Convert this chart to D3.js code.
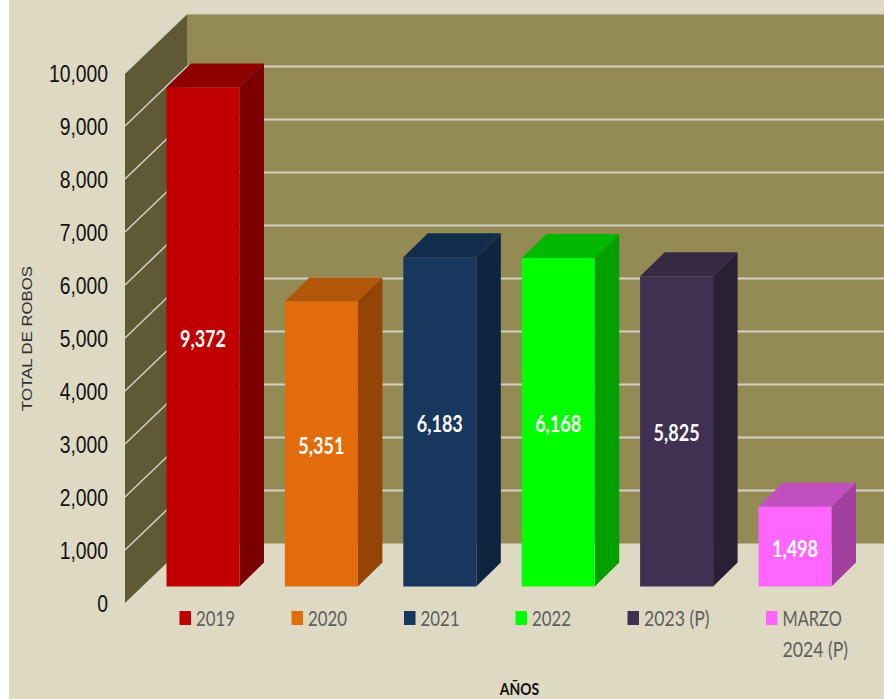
<!DOCTYPE html>
<html>
  <head>
    <meta charset="utf-8">
    <title>Total de robos</title>
    <script src="https://d3js.org/d3.v7.min.js"></script>
    <style>
    html, body { margin: 0; padding: 0; background: #fff; }
    svg { display: block; }
    .tick text { font-family: "Liberation Sans", sans-serif; font-size: 23px; fill: #111; }
    .legend text { font-family: Lato, sans-serif; font-size: 21px; fill: #5f5f5f; }
    .value { font-family: Lato, sans-serif; font-size: 22px; font-weight: 700; fill: #fff; text-anchor: middle; }
    </style>
  </head>
  <body>
<script>

// values
var categories = ["2019", "2020", "2021", "2022", "2023 (P)", "MARZO 2024 (P)"];
var totals = [9372, 5351, 6183, 6168, 5825, 1498];
var yTicks = [0, 1000, 2000, 3000, 4000, 5000, 6000, 7000, 8000, 9000, 10000];
var frontColors = ["#c00000", "#e36c0a", "#17375e", "#00ff00", "#403152", "#ff66ff"];
var topColors = ["#8e0000", "#b0570a", "#122d4d", "#00b800", "#362944", "#c24fbf"];
var sideColors = ["#7a0000", "#944506", "#0f243e", "#00a000", "#2a2036", "#a2409f"];
var legendLines = [["2019"], ["2020"], ["2021"], ["2022"], ["2023 (P)"], ["MARZO", "2024 (P)"]];

var width = 884, height = 699;

// the 3d box: front plane of the wall, and how far back it goes
var wallLeft = 125, wallDx = 62, wallDy = -59.5;
var barDx = 24.5, barDy = -24;

var x = d3.scaleBand().domain(categories).range([166.5, 831.5]).paddingInner(0.3834);
var y = d3.scaleLinear().domain([0, 10000]).range([603, 73]);
// bars stand a bit inside the box, on their own plane
var yBar = d3.scaleLinear().domain([0, 10000]).range([586.5, 54]);

var legendX = [179.5, 291.5, 404, 515.5, 627.5, 766];

function pts(a) { return a.map(p => p.join(",")).join(" "); }

// no Calibri here, so narrow the text down to the reference widths
function squeeze(sel, k) {
  sel.each(function(d) {
    var f = typeof k === "function" ? k(d) : k;
    d3.select(this)
      .attr("textLength", this.getComputedTextLength() * f)
      .attr("lengthAdjust", "spacingAndGlyphs");
  });
}

var svg = d3.select("body").append("svg")
    .attr("width", width)
    .attr("height", height);

svg.append("rect")
    .attr("x", 9).attr("y", 0)
    .attr("width", width - 9).attr("height", height)
    .attr("fill", "#ddd9c3");

// back wall
svg.append("rect")
    .attr("x", wallLeft + wallDx).attr("y", y(10000) + wallDy)
    .attr("width", width - wallLeft - wallDx)
    .attr("height", y(0) - y(10000))
    .attr("fill", "#948a54");

// side wall
svg.append("polygon")
    .attr("points", pts([
      [wallLeft, y(0)], [wallLeft, y(10000)],
      [wallLeft + wallDx, y(10000) + wallDy], [wallLeft + wallDx, y(0) + wallDy]
    ]))
    .attr("fill", "#5f5a35");

// gridlines, back wall then side wall
svg.append("g").selectAll("line")
    .data(yTicks.filter(d => d > 0))
    .join("line")
    .attr("x1", wallLeft + wallDx).attr("x2", width)
    .attr("y1", d => y(d) + wallDy).attr("y2", d => y(d) + wallDy)
    .attr("stroke", "#d3d1c5").attr("stroke-width", 2);

svg.append("g").selectAll("line")
    .data(yTicks.filter(d => d > 0))
    .join("line")
    .attr("x1", wallLeft).attr("x2", wallLeft + wallDx)
    .attr("y1", d => y(d)).attr("y2", d => y(d) + wallDy)
    .attr("stroke", "#d3d1c5").attr("stroke-width", 1.5);

// y axis
var yAxis = svg.append("g")
    .attr("transform", "translate(117,1.5)")
    .call(d3.axisLeft(y).tickValues(yTicks).tickFormat(d3.format(",")).tickSize(0).tickPadding(9));
yAxis.select(".domain").remove();
squeeze(yAxis.selectAll("text"), 0.84);

// bars
var bars = svg.append("g").selectAll("g")
    .data(categories)
    .join("g");

function barBox(d, i) {
  var x0 = x(d), x1 = x0 + x.bandwidth();
  return {x0: x0, x1: x1, top: yBar(totals[i]), bottom: yBar(0)};
}

bars.append("polygon")
    .attr("fill", (d, i) => topColors[i])
    .attr("points", (d, i) => {
      var b = barBox(d, i);
      return pts([[b.x0, b.top], [b.x0 + barDx, b.top + barDy], [b.x1 + barDx, b.top + barDy], [b.x1, b.top]]);
    });

bars.append("polygon")
    .attr("fill", (d, i) => sideColors[i])
    .attr("points", (d, i) => {
      var b = barBox(d, i);
      return pts([[b.x1, b.top], [b.x1 + barDx, b.top + barDy], [b.x1 + barDx, b.bottom + barDy], [b.x1, b.bottom]]);
    });

bars.append("rect")
    .attr("fill", (d, i) => frontColors[i])
    .attr("x", d => x(d))
    .attr("width", x.bandwidth())
    .attr("y", (d, i) => barBox(d, i).top)
    .attr("height", (d, i) => barBox(d, i).bottom - barBox(d, i).top);

var values = bars.append("text")
    .attr("class", "value")
    .attr("x", d => x(d) + x.bandwidth() / 2)
    .attr("y", (d, i) => (barBox(d, i).top + barBox(d, i).bottom) / 2 + 10)
    .text((d, i) => d3.format(",")(totals[i]));
squeeze(values, 0.82);

// legend
var legend = svg.append("g").attr("class", "legend").selectAll("g")
    .data(categories)
    .join("g")
    .attr("transform", (d, i) => "translate(" + legendX[i] + ",611)");

legend.append("rect")
    .attr("width", 11.5).attr("height", 14)
    .attr("fill", (d, i) => frontColors[i]);

legend.each(function(d, i) {
  var lines = d3.select(this).selectAll("text")
      .data(legendLines[i])
      .join("text")
      .attr("x", 16.5)
      .attr("y", (t, j) => 14.5 + j * 31)
      .text(t => t);
  squeeze(lines, t => t.indexOf("(") >= 0 ? 0.84 : t == "MARZO" ? 0.78 : 0.8);
});

// axis titles
var yTitle = svg.append("text")
    .attr("transform", "translate(32,338.5) rotate(-90)")
    .attr("text-anchor", "middle")
    .attr("font-family", "Liberation Sans, sans-serif")
    .attr("font-size", 15.5)
    .attr("fill", "#333")
    .text("TOTAL DE ROBOS");
squeeze(yTitle, 1.08);

var xTitle = svg.append("text")
    .attr("x", 519.5).attr("y", 695)
    .attr("text-anchor", "middle")
    .attr("font-family", "Lato, sans-serif")
    .attr("font-weight", 700)
    .attr("font-size", 17)
    .attr("fill", "#111")
    .text("AÑOS");
squeeze(xTitle, 0.82);

</script>
</body>
</html>
